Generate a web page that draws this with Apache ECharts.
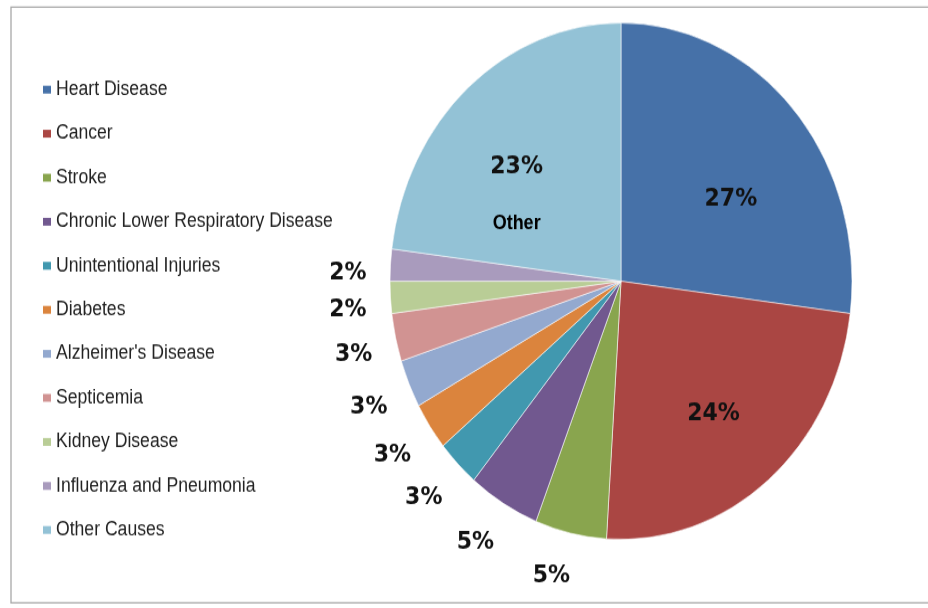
<!DOCTYPE html>
<html>
<head>
<meta charset="utf-8">
<script src="https://cdn.jsdelivr.net/npm/echarts@6/dist/echarts.min.js"></script>
<style>
  html, body { margin: 0; background: #fff; }
  #wrap { width: 928px; height: 608px; overflow: hidden; position: relative; }
  /* the source picture is stretched vertically, so stretch the chart the same way */
  #main { position: absolute; left: 0; top: 0; width: 928px; height: 544px;
          transform: scaleY(1.1176); transform-origin: 0 0; }
</style>
</head>
<body>
<div id="wrap"><div id="main"></div></div>
<script>
var causes = ['Heart Disease', 'Cancer', 'Stroke', 'Chronic Lower Respiratory Disease',
  'Unintentional Injuries', 'Diabetes', "Alzheimer's Disease", 'Septicemia',
  'Kidney Disease', 'Influenza and Pneumonia', 'Other Causes'];
var shares = [27, 24, 5, 5, 3, 3, 3, 3, 2, 2, 23];
var colors = ['#4671A8', '#AA4643', '#89A54E', '#71588F', '#4198AF', '#DB843D',
  '#93A9CF', '#D19392', '#B9CD96', '#A99BBD', '#93C2D6'];

// big slices get their label inside, nudged to where the source has it
var insideOffset = { 0: [21, 5], 1: [17, 27], 10: [-26, 12] };

var pieData = causes.map(function (name, i) {
  var item = { name: name, value: shares[i] };
  if (insideOffset[i]) {
    item.label = { position: 'inside', offset: insideOffset[i] };
  }
  return item;
});

var myChart = echarts.init(document.getElementById('main'));
myChart.setOption({
  animation: false,
  color: colors,
  graphic: [{
    type: 'rect',
    shape: { x: 11, y: 6.3, width: 1000, height: 533 },
    style: { fill: 'none', stroke: '#a8a8a8', lineWidth: 1.3 },
    silent: true
  }],
  legend: {
    orient: 'vertical',
    left: 38,
    top: 65.2,
    itemWidth: 8,
    itemHeight: 7,
    itemGap: 19.4,
    itemStyle: { borderWidth: 0 },
    icon: 'rect',
    selectedMode: false,
    textStyle: {
      fontFamily: 'Liberation Sans',
      fontSize: 17.6,
      lineHeight: 20,
      color: '#222'
    },
    data: causes
  },
  series: [{
    type: 'pie',
    center: [621, 251.6],
    radius: 231,
    startAngle: 90,
    clockwise: true,
    avoidLabelOverlap: true,
    itemStyle: { borderColor: 'rgba(255,255,255,0.7)', borderWidth: 0.8 },
    label: {
      position: 'outside',
      offset: [11, 9],
      formatter: function (p) {
        if (p.dataIndex === 10) return '{p|' + p.value + '%}\n{o|Other}';
        return p.value + '%';
      },
      fontFamily: 'DejaVu Sans',
      fontWeight: 'bold',
      fontSize: 22,
      color: '#111',
      rich: {
        p: { fontFamily: 'DejaVu Sans', fontWeight: 'bold', fontSize: 22, color: '#111', lineHeight: 51 },
        o: { fontFamily: 'Liberation Sans', fontWeight: 'bold', fontSize: 18, color: '#000', lineHeight: 51 }
      }
    },
    labelLine: { show: false, length: 30, length2: 0 },
    emphasis: { disabled: true },
    data: pieData
  }]
});
</script>
</body>
</html>
